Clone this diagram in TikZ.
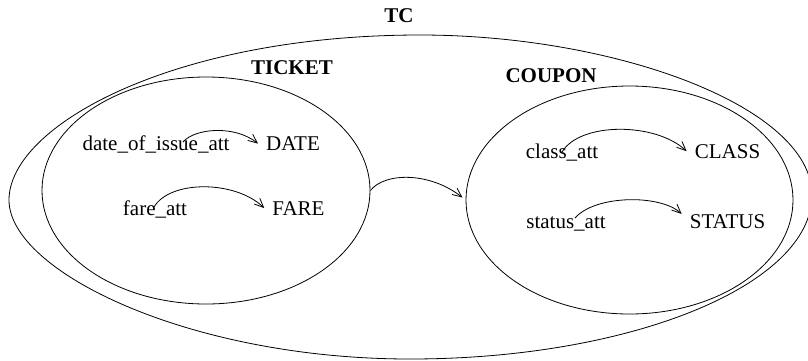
\documentclass[tikz,border=0pt]{standalone}
\usepackage{fontspec}
\setmainfont{Liberation Serif}
\usetikzlibrary{shapes.geometric,arrows.meta}

\tikzset{
  lbl/.style={inner sep=0pt, anchor=base, font=\fontsize{21}{25}\selectfont},
  typelbl/.style={lbl, inner xsep=8pt},
  setname/.style={lbl, font=\fontsize{21}{25}\selectfont\bfseries},
  setshape/.style={draw, ellipse, inner sep=0pt, line width=0.8pt},
  attarrow/.style={line width=0.8pt, -{Straight Barb[length=9pt,width=8pt,line width=0.8pt]}}
}

\begin{document}
\begin{tikzpicture}[x=1pt,y=-1pt]
  \useasboundingbox (0,0) rectangle (808,360);

  % outer TC set: an egg-like closed curve
  \draw[line width=0.8pt]
    (9,200) .. controls (9,125.75) and (173.4,35) .. (420,35)
            .. controls (616,35) and (812,107) .. (812,195)
            .. controls (812,285) and (631,359) .. (410,359)
            .. controls (189.5,359) and (9,271.5) .. (9,200) -- cycle;
  \node[setname] (tc) at (399,22) {TC};

  % TICKET and COUPON sets
  \node[setshape, minimum width=328pt, minimum height=227pt] (ticket) at (206,190.5) {};
  \node[setshape, minimum width=327pt, minimum height=228pt] (coupon) at (629.5,200) {};
  \node[setname] (ticketname) at (292,74) {TICKET};
  \node[setname] (couponname) at (551,82) {COUPON};

  % attributes and their value types
  \node[lbl] (dateatt) at (156,150.5) {date\_of\_issue\_att};
  \node[typelbl] (date) at (293,150.5) {DATE};
  \node[lbl] (fareatt) at (155,215) {fare\_att};
  \node[typelbl] (fare) at (298.5,215) {FARE};
  \node[lbl] (classatt) at (562,158) {class\_att};
  \node[typelbl] (class) at (727.5,158) {CLASS};
  \node[lbl] (statusatt) at (566,228) {status\_att};
  \node[typelbl] (status) at (727.5,228) {STATUS};

  \coordinate (dateout) at (183,142);
  \coordinate (fareout) at (154,207);
  \coordinate (classout) at (562,152);
  \coordinate (statusout) at (575,218);

  \draw[attarrow] (dateout) .. controls (195,128) and (235,125) .. (date.west);
  \draw[attarrow] (fareout) .. controls (170,180) and (235,180) .. (fare.west);
  \draw[attarrow] (classout) .. controls (580,122) and (655,122) .. (class.west);
  \draw[attarrow] (statusout) .. controls (595,195) and (660,194) .. (status.north west);

  % TICKET to COUPON
  \draw[attarrow, shorten >=4pt] (ticket.east) .. controls (385,172) and (430,172) .. (coupon.west);
\end{tikzpicture}
\end{document}
